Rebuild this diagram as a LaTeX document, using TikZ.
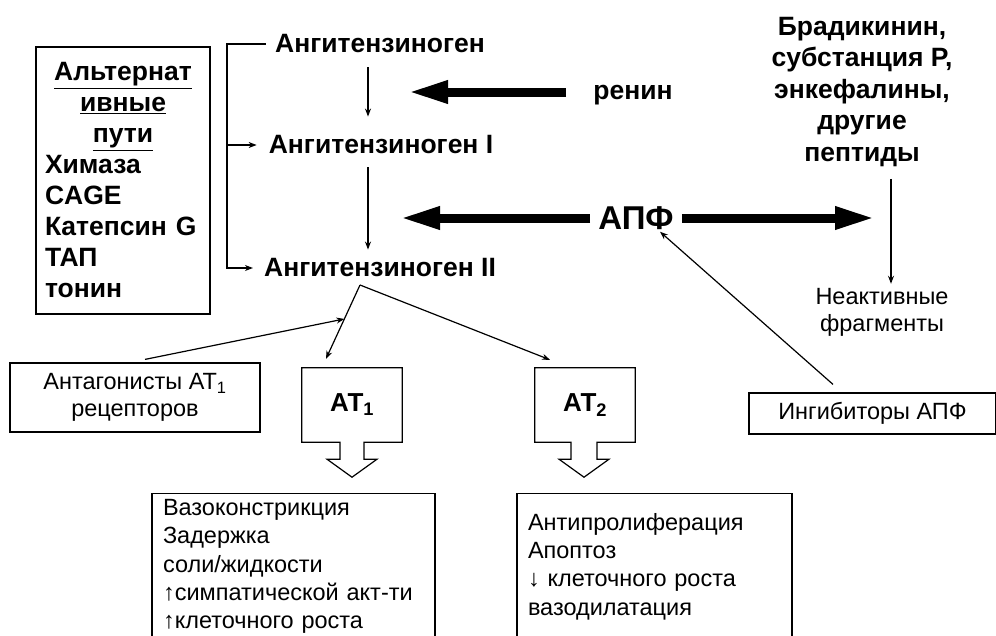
\documentclass[tikz,border=0pt]{standalone}
\usepackage{fontspec}
\setmainfont{Liberation Sans}
\usetikzlibrary{positioning,arrows.meta}
\tikzset{
    bigtext/.style={font=\bfseries\fontsize{26.5}{31.5}\selectfont, align=center, inner sep=2pt},
    smalltext/.style={font=\fontsize{23.5}{27}\selectfont, align=center, inner sep=2pt},
    listtext/.style={font=\fontsize{23.5}{28.3}\selectfont, align=left, inner xsep=11pt, inner ysep=0pt},
    frame/.style={draw, line width=1.2pt, inner sep=0pt},
    receptor/.style={minimum width=100pt, minimum height=74pt, font=\bfseries\fontsize{26}{30}\selectfont},
    thin/.style={line width=1.2pt, -{Stealth[length=8pt,width=6pt]}},
    fat/.style={line width=9pt, -{Triangle[length=40pt,width=21pt]}},
    outline/.style={draw, line width=1.2pt, line join=miter},
}

\begin{document}
\begin{tikzpicture}[x=1pt,y=-1pt]
\useasboundingbox (0,0) rectangle (996,635);

\node[frame, bigtext, font=\bfseries\fontsize{26.5}{31}\selectfont, align=left, text width=156pt, inner xsep=9pt, minimum height=267pt] (alt) at (123,180.5) {{\centering\underline{Альтернат}\\\underline{ивные}\\\underline{пути}\par}Химаза\\CAGE\\Катепсин G\\ТАП\\тонин};

\node[bigtext] (ang0) at (380,44) {Ангитензиноген};
\node[bigtext] (ang1) at (381,145) {Ангитензиноген I};
\node[bigtext] (ang2) at (380,268) {Ангитензиноген II};

\node[bigtext] (renin) at (633,95) {ренин};
\node[font=\bfseries\fontsize{33}{38}\selectfont, inner sep=2pt] (apf) at (636,218) {АПФ};

\node[bigtext] (brad) at (862,92) {Брадикинин,\\субстанция Р,\\энкефалины,\\другие\\пептиды};
\node[smalltext] (inact) at (882,312) {Неактивные\\фрагменты};

\node[frame, smalltext, minimum width=247pt, minimum height=41pt] (inhib) at (872.5,413.5) {Ингибиторы АПФ};
\node[frame, smalltext, minimum width=250pt, minimum height=69pt] (antag) at (135,397.5) {Антагонисты АТ\textsubscript{1}\\рецепторов};

\node[receptor] (at1) at (352,405) {АТ\textsubscript{1}};
\node[receptor] (at2) at (585,405) {АТ\textsubscript{2}};

\node[frame, listtext, text width=261pt, minimum height=146pt, anchor=north] (eff1) at (293.5,493) {Вазоконстрикция\\Задержка\\соли/жидкости\\↑симпатической акт-ти\\↑клеточного роста};
\node[frame, listtext, text width=253pt, minimum height=146pt, anchor=north] (eff2) at (654.5,493) {Антипролиферация\\Апоптоз\\↓ клеточного роста\\вазодилатация};

\coordinate (bx) at (227,0);
\coordinate (ax) at (368,0);
\coordinate (bx2) at (891,0);
\coordinate (renTip) at (408,92);
\coordinate (apfL) at (400,218);
\coordinate (apfR) at (875,218);
\coordinate (split) at (360,285);

\draw[outline] (at1.north west) -- (at1.north east) -- (at1.south east) -- ([xshift=12pt]at1.south) -- ++(0,17) -- ++(13,0) -- ++(-25,18) -- ++(-25,-18) -- ++(13,0) -- ++(0,-17) -- (at1.south west) -- cycle;
\draw[outline] (at2.north west) -- (at2.north east) -- (at2.south east) -- ([xshift=12pt]at2.south) -- ++(0,17) -- ++(12,0) -- ++(-25,18) -- ++(-25,-18) -- ++(12,0) -- ++(0,-17) -- (at2.south west) -- cycle;

\draw[thin] ([xshift=-7pt]ang0.west) -- (ang0.west -| bx) -- (ang2.west -| bx) -- ([xshift=-9pt]ang2.west);
\draw[thin] (ang1.west -| bx) -- ([xshift=-10pt]ang1.west);

\draw[thin, shorten <=12pt, shorten >=17pt] (ang0.south -| ax) -- (ang1.north -| ax);
\draw[thin, shorten <=11pt, shorten >=7pt] (ang1.south -| ax) -- (ang2.north -| ax);

\draw[fat, shorten <=25pt] (renin.west |- renTip) -- (renTip);
\draw[fat, shorten <=6pt] (apf.west |- apfL) -- (apfL);
\draw[fat, shorten <=6pt] (apf.east |- apfR) -- (apfR);

\draw[thin, shorten <=10pt, shorten >=2pt] (brad.south -| bx2) -- (inact.north -| bx2);
\draw[thin] ([xshift=-39.5pt,yshift=8pt]inhib.north) -- ([xshift=24pt]apf.south);

\draw[thin] (split) -- coordinate[pos=0.46] (block) ([xshift=-26pt,yshift=9pt]at1.north);
\draw[thin] (split) -- ([xshift=-35pt,yshift=8pt]at2.north);
\draw[thin] ([xshift=10pt,yshift=3pt]antag.north) -- (block);

\end{tikzpicture}
\end{document}
